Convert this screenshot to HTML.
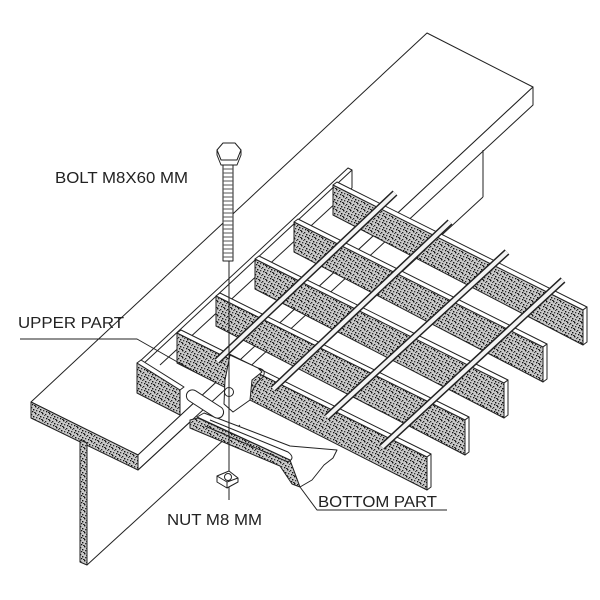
<!DOCTYPE html>
<html><head><meta charset="utf-8"><style>
html,body{margin:0;padding:0;background:#fff;}
svg{display:block;}
text{font-family:"Liberation Sans",sans-serif;fill:#222;}
</style></head><body>
<svg width="600" height="600" viewBox="0 0 600 600" xmlns="http://www.w3.org/2000/svg">
<defs>
<pattern id="sp" width="7" height="7" patternUnits="userSpaceOnUse">
<rect width="7" height="7" fill="#c8c8c8"/>
<rect x="0" y="0" width="1.4" height="1.4" fill="#111"/>
<rect x="3" y="1" width="1.3" height="1.3" fill="#222"/>
<rect x="5" y="3" width="1.4" height="1.4" fill="#111"/>
<rect x="1" y="4" width="1.3" height="1.3" fill="#333"/>
<rect x="4" y="5" width="1.3" height="1.3" fill="#111"/>
<rect x="2" y="2" width="1" height="1" fill="#444"/>
<rect x="6" y="6" width="1" height="1" fill="#222"/>
<rect x="0" y="6" width="1" height="1" fill="#555"/>
</pattern>
</defs>
<g stroke="#222" stroke-width="1" fill="none" stroke-linejoin="round">
<polygon points="31,402 427,33 533,87 138,455" fill="#fff"/>
<polygon points="138,455 533,87 533,105 138,470" fill="#fff"/>
<line x1="483" y1="150" x2="483" y2="197"/>
<line x1="483" y1="197" x2="380" y2="292"/>
<polygon points="31,402 138,455 138,470 31,418" fill="url(#sp)"/>
<polygon points="80,440 87,443 87,565 80,562" fill="url(#sp)"/>
<line x1="87" y1="565" x2="240" y2="425"/>
<line x1="138" y1="470" x2="190" y2="422"/>

<polygon points="348,168 352,170 142,365 138,363" fill="#fff"/>
<line x1="352" y1="170" x2="352" y2="188"/>
<line x1="352" y1="188" x2="160" y2="365"/>

<g>
<polygon points="333,185 583,310 583,345 333,215" fill="url(#sp)"/>
<polygon points="333,185 337,182 587,307 583,310" fill="#fff"/>
<polygon points="583,310 587,307 587,342 583,345" fill="#fff"/>
</g>
<g>
<polygon points="294,222 543,347 543,382 294,252" fill="url(#sp)"/>
<polygon points="294,222 298,219 547,344 543,347" fill="#fff"/>
<polygon points="543,347 547,344 547,379 543,382" fill="#fff"/>
</g>
<g>
<polygon points="255,259 504,383 504,418 255,289" fill="url(#sp)"/>
<polygon points="255,259 259,256 508,380 504,383" fill="#fff"/>
<polygon points="504,383 508,380 508,415 504,418" fill="#fff"/>
</g>
<g>
<polygon points="216,296 465,420 465,455 216,326" fill="url(#sp)"/>
<polygon points="216,296 220,293 469,417 465,420" fill="#fff"/>
<polygon points="465,420 469,417 469,452 465,455" fill="#fff"/>
</g>
<g>
<polygon points="177,333 427,457 427,490 177,363" fill="url(#sp)"/>
<polygon points="177,333 181,330 431,454 427,457" fill="#fff"/>
<polygon points="427,457 431,454 431,487 427,490" fill="#fff"/>
</g>
<polygon points="137,363 180,390 180,415 137,393" fill="url(#sp)"/>
<polygon points="137,363 141,360 184,387 180,390" fill="#fff"/>

<g stroke-linecap="butt">
<line x1="217" y1="361" x2="395" y2="193" stroke="#222" stroke-width="7"/>
<line x1="217" y1="361" x2="395" y2="193" stroke="#f4f4f4" stroke-width="4"/>
<line x1="273" y1="389" x2="450" y2="222" stroke="#222" stroke-width="7"/>
<line x1="273" y1="389" x2="450" y2="222" stroke="#f4f4f4" stroke-width="4"/>
<line x1="327" y1="417" x2="507" y2="252" stroke="#222" stroke-width="7"/>
<line x1="327" y1="417" x2="507" y2="252" stroke="#f4f4f4" stroke-width="4"/>
<line x1="382" y1="447" x2="563" y2="280" stroke="#222" stroke-width="7"/>
<line x1="382" y1="447" x2="563" y2="280" stroke="#f4f4f4" stroke-width="4"/>
</g>

<!-- bottom part clip -->
<polygon points="190,420 198,418 290,460 300,487 292,484 280,466 190,428" fill="url(#sp)"/>
<polygon points="197,417 204,413 290,446 337,450 333,458 324,465 312,480 300,487 290,460" fill="#fff"/>
<path d="M210,420 L288,452 Q296,458 288,462 L205,426"/>
<!-- upper part clip -->
<polygon points="230,355 258,368 262,372 252,380 250,400 233,412 224,404 225,380" fill="#fff"/>
<path d="M258,368 Q268,370 262,378 Q255,383 252,392"/>
<rect x="184" y="398" width="42" height="12" rx="6" transform="rotate(33 205 404)" fill="#fff"/>
<circle cx="229" cy="392" r="4.5" fill="#fff"/>

<!-- bolt -->
<polygon points="223,143 235,143 241,150 237,160 221,160 217,150" fill="#fff"/>
<polygon points="217,150 221,160 237,160 241,150 241,155 237,165 221,165 217,155" fill="#fff"/>
<rect x="223" y="165" width="10" height="96" fill="#fff"/>
<path d="M223,169h10M223,173h10M223,177h10M223,181h10M223,185h10M223,189h10M223,193h10M223,197h10M223,201h10M223,205h10M223,209h10M223,213h10M223,217h10M223,221h10M223,225h10M223,229h10M223,233h10M223,237h10M223,241h10M223,245h10M223,249h10M223,253h10M223,257h10" stroke="#555"/>
<line x1="229" y1="261" x2="229" y2="500"/>
<!-- nut -->
<polygon points="217,476 229,471 238,478 238,482 227,488 217,482" fill="#fff"/>
<polyline points="217,476 227,482 238,478 M227,482 227,488"/>
<line x1="227" y1="482" x2="227" y2="488"/>
<circle cx="228" cy="477" r="3.5" fill="#fff"/>

<polyline points="20,339 137,339 195,372"/>
<polyline points="300,487 317,510 447,510"/>
</g>
<text x="55" y="183" font-size="16" textLength="133" lengthAdjust="spacingAndGlyphs">BOLT M8X60 MM</text>
<text x="18" y="328" font-size="16" textLength="106" lengthAdjust="spacingAndGlyphs">UPPER PART</text>
<text x="318" y="507" font-size="16" textLength="119" lengthAdjust="spacingAndGlyphs">BOTTOM PART</text>
<text x="167" y="525" font-size="16" textLength="95" lengthAdjust="spacingAndGlyphs">NUT M8 MM</text>
</svg>
</body></html>
